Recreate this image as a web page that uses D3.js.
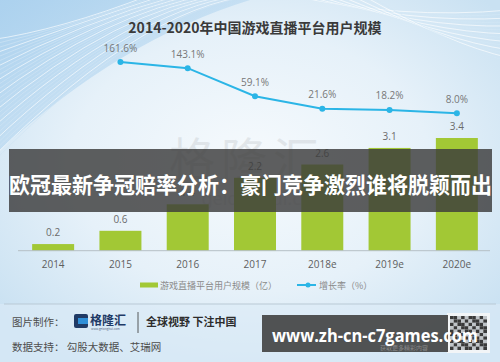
<!DOCTYPE html>
<html>
<head>
<meta charset="utf-8">
<script src="https://cdn.jsdelivr.net/npm/d3@7"></script>
<style>
  body { margin: 0; padding: 0; background: #fff; }
  svg { display: block; }
</style>
</head>
<body>
<div id="chart"></div>
<script>
// data
const years = ["2014", "2015", "2016", "2017", "2018e", "2019e", "2020e"];
const users = [0.2, 0.6, 1.4, 2.2, 2.6, 3.1, 3.4];           // 亿
const rateYears = ["2015", "2016", "2017", "2018e", "2019e", "2020e"];
const rates = [161.6, 143.1, 59.1, 21.6, 18.2, 8.0];          // %

const width = 500, height = 362;
const cjk = "'Noto Sans CJK SC', 'Noto Sans', sans-serif";

const svg = d3.select("#chart").append("svg")
    .attr("width", width)
    .attr("height", height);

const defs = svg.append("defs");

// background gradient
const bg = defs.append("radialGradient")
    .attr("id", "bg")
    .attr("cx", "50%").attr("cy", "45%").attr("r", "65%");
bg.append("stop").attr("offset", "0%").attr("stop-color", "#f6fafd");
bg.append("stop").attr("offset", "55%").attr("stop-color", "#e6f1f9");
bg.append("stop").attr("offset", "100%").attr("stop-color", "#c9e1f2");

const wash = defs.append("linearGradient")
    .attr("id", "wash")
    .attr("x1", "0%").attr("y1", "0%").attr("x2", "100%").attr("y2", "100%");
wash.append("stop").attr("offset", "0%").attr("stop-color", "#a9d0ee").attr("stop-opacity", 0.9);
wash.append("stop").attr("offset", "100%").attr("stop-color", "#a9d0ee").attr("stop-opacity", 0);

svg.append("rect")
    .attr("width", width).attr("height", height)
    .attr("fill", "url(#bg)");

// blue wash top-left
svg.append("path")
    .attr("d", "M0,0 L250,0 Q120,40 0,150 Z")
    .attr("fill", "url(#wash)");

// decorative sweeping lines
const deco = svg.append("g").attr("fill", "none");
d3.range(26).forEach(function(i) {
  deco.append("path")
    .attr("d", "M" + (-10) + "," + (40 + i * 5) + " Q" + (60 + i * 4) + "," + (30 - i * 1.5) + " " + (150 + i * 5) + ",-5")
    .attr("stroke", i % 3 === 0 ? "#ffffff" : "#cfe4f4")
    .attr("stroke-width", 0.8)
    .attr("opacity", 0.8);
});
d3.range(14).forEach(function(i) {
  deco.append("path")
    .attr("d", "M" + (290 + i * 6) + ",-5 Q" + (400 + i * 4) + "," + (20 + i * 2) + " 510," + (10 + i * 4))
    .attr("stroke", i % 2 === 0 ? "#ffffff" : "#d3e7f5")
    .attr("stroke-width", 0.8)
    .attr("opacity", 0.8);
});

// title
svg.append("text")
    .attr("x", 255).attr("y", 33)
    .attr("text-anchor", "middle")
    .style("font-family", cjk)
    .style("font-weight", "bold")
    .style("font-size", "14px")
    .attr("fill", "#3a3a3a")
    .text("2014-2020年中国游戏直播平台用户规模");

// watermark
svg.append("text")
    .attr("x", 247).attr("y", 176)
    .attr("text-anchor", "middle")
    .style("font-family", cjk)
    .style("font-size", "46px")
    .attr("fill", "#000").attr("opacity", 0.07)
    .attr("letter-spacing", "6px")
    .text("格隆汇");
svg.append("text")
    .attr("x", 265).attr("y", 205)
    .attr("text-anchor", "middle")
    .style("font-family", "'Noto Sans', sans-serif")
    .style("font-size", "18px")
    .attr("fill", "#000").attr("opacity", 0.06)
    .text("gelonghui.com");

// scales
const x = d3.scaleBand()
    .domain(years)
    .range([19.5, 490.5])
    .paddingInner(0.376)
    .paddingOuter(0.188);

const yBar = d3.scaleLinear().domain([0, 3.4]).range([250.7, 138]);
const yLine = d3.scaleLinear().domain([0, 161.6]).range([116, 62]);

// bars
svg.selectAll(".bar")
  .data(users)
  .enter().append("rect")
    .attr("class", "bar")
    .attr("x", function(d, i) { return x(years[i]); })
    .attr("y", function(d) { return yBar(d); })
    .attr("width", x.bandwidth())
    .attr("height", function(d) { return yBar(0) - yBar(d); })
    .attr("fill", "#a2c835");

svg.selectAll(".barLabel")
  .data(users)
  .enter().append("text")
    .attr("class", "barLabel")
    .attr("x", function(d, i) { return x(years[i]) + x.bandwidth() / 2; })
    .attr("y", function(d) { return yBar(d) - 8; })
    .attr("text-anchor", "middle")
    .style("font-family", "'Open Sans', sans-serif")
    .style("font-size", "10px")
    .attr("fill", "#6b6b6b")
    .text(function(d) { return d.toFixed(1); });

// x axis
const xAxis = svg.append("g")
    .attr("transform", "translate(0," + yBar(0) + ")")
    .call(d3.axisBottom(x).tickSize(0).tickPadding(10));
xAxis.select(".domain").attr("stroke", "#b5bfc6").attr("d", "M18,0H490");
xAxis.selectAll("text")
    .style("font-family", "'Open Sans', sans-serif")
    .style("font-size", "10px")
    .attr("fill", "#5e5e5e");

// growth line
const line = d3.line()
    .x(function(d, i) { return x(rateYears[i]) + x.bandwidth() / 2; })
    .y(function(d) { return yLine(d); });

svg.append("path")
    .datum(rates)
    .attr("d", line)
    .attr("fill", "none")
    .attr("stroke", "#2bb5e6")
    .attr("stroke-width", 2);

svg.selectAll(".dot")
  .data(rates)
  .enter().append("circle")
    .attr("class", "dot")
    .attr("cx", function(d, i) { return x(rateYears[i]) + x.bandwidth() / 2; })
    .attr("cy", function(d) { return yLine(d); })
    .attr("r", 3)
    .attr("fill", "#2bb5e6");

svg.selectAll(".rateLabel")
  .data(rates)
  .enter().append("text")
    .attr("class", "rateLabel")
    .attr("x", function(d, i) { return x(rateYears[i]) + x.bandwidth() / 2; })
    .attr("y", function(d) { return yLine(d) - 10.5; })
    .attr("text-anchor", "middle")
    .style("font-family", "'Open Sans', sans-serif")
    .style("font-size", "10px")
    .attr("fill", "#777")
    .text(function(d) { return d.toFixed(1) + "%"; });

// legend
const legend = svg.append("g");
legend.append("rect")
    .attr("x", 140).attr("y", 282.5)
    .attr("width", 18).attr("height", 5)
    .attr("fill", "#a2c835");
legend.append("text")
    .attr("x", 160).attr("y", 288.5)
    .style("font-family", cjk)
    .style("font-size", "9px")
    .attr("fill", "#8a8a8a")
    .text("游戏直播平台用户规模（亿）");
legend.append("line")
    .attr("x1", 297).attr("x2", 316)
    .attr("y1", 285).attr("y2", 285)
    .attr("stroke", "#2bb5e6").attr("stroke-width", 2);
legend.append("circle")
    .attr("cx", 308).attr("cy", 285).attr("r", 2.5)
    .attr("fill", "#2bb5e6");
legend.append("text")
    .attr("x", 319).attr("y", 288.5)
    .style("font-family", cjk)
    .style("font-size", "9px")
    .attr("fill", "#8a8a8a")
    .text("增长率（%）");

// overlay banner
svg.append("rect")
    .attr("x", 9).attr("y", 149)
    .attr("width", 483).attr("height", 63)
    .attr("fill", "#3c3c3c").attr("opacity", 0.82);
svg.append("text")
    .attr("x", 250.5).attr("y", 193)
    .attr("text-anchor", "middle")
    .style("font-family", cjk)
    .style("font-weight", "bold")
    .style("font-size", "22px")
    .attr("textLength", 483)
    .attr("lengthAdjust", "spacingAndGlyphs")
    .attr("fill", "#ffffff")
    .text("欧冠最新争冠赔率分析：豪门竞争激烈谁将脱颖而出");

// footer
svg.append("rect")
    .attr("x", 0).attr("y", 304)
    .attr("width", width).attr("height", height - 304)
    .attr("fill", "#dcebf6").attr("opacity", 0.6);
svg.append("line")
    .attr("x1", 4).attr("x2", 496)
    .attr("y1", 304).attr("y2", 304)
    .attr("stroke", "#b9c9d5").attr("stroke-width", 1);

const foot = svg.append("g")
    .style("font-family", cjk);
foot.append("text")
    .attr("x", 12).attr("y", 325.5)
    .style("font-size", "10.5px")
    .attr("fill", "#4d4d4d")
    .text("图片制作：");
foot.append("text")
    .attr("x", 12).attr("y", 350.5)
    .style("font-size", "10.5px")
    .attr("fill", "#4d4d4d")
    .text("数据支持： 勾股大数据、艾瑞网");

// logo
foot.append("rect")
    .attr("x", 74).attr("y", 314)
    .attr("width", 14).attr("height", 14)
    .attr("rx", 2)
    .attr("fill", "#1f3a66");
foot.append("rect")
    .attr("x", 78).attr("y", 318)
    .attr("width", 10).attr("height", 6)
    .attr("fill", "#2f8fd8");
foot.append("text")
    .attr("x", 90).attr("y", 325)
    .style("font-size", "12px")
    .style("font-weight", "bold")
    .attr("fill", "#1f3a66")
    .text("格隆汇");
foot.append("text")
    .attr("x", 91).attr("y", 330)
    .style("font-size", "3px")
    .attr("fill", "#5a6b85")
    .text("www.gelonghui.com");
foot.append("line")
    .attr("x1", 138).attr("x2", 138)
    .attr("y1", 312).attr("y2", 333)
    .attr("stroke", "#333").attr("stroke-width", 0.8);
foot.append("text")
    .attr("x", 146).attr("y", 326)
    .style("font-size", "11px")
    .style("font-weight", "bold")
    .attr("fill", "#2d2d2d")
    .text("全球视野 下注中国");

// qr code block
const qr = svg.append("g");
qr.append("rect")
    .attr("x", 447).attr("y", 313)
    .attr("width", 43).attr("height", 40)
    .attr("fill", "#f2f5f7");
const qrCells = d3.range(0, 10 * 10);
qr.selectAll(".qr")
  .data(qrCells)
  .enter().append("rect")
    .attr("x", function(d) { return 450 + (d % 10) * 3.7; })
    .attr("y", function(d) { return 316 + Math.floor(d / 10) * 3.4; })
    .attr("width", 3.7).attr("height", 3.4)
    .attr("fill", function(d) { return ((d * 7 + Math.floor(d / 10) * 3) % 5 < 3) ? "#3a3a3a" : "#bfc4c8"; });

// url banner
svg.append("rect")
    .attr("x", 262).attr("y", 315)
    .attr("width", 186).attr("height", 37)
    .attr("fill", "#3c3c3c").attr("opacity", 0.88);
svg.append("text")
    .attr("x", 380).attr("y", 350)
    .style("font-family", cjk)
    .style("font-size", "6px")
    .attr("fill", "#888")
    .text("获取更多精彩内容");
svg.append("text")
    .attr("x", 272).attr("y", 342)
    .style("font-family", "'Open Sans', sans-serif")
    .style("font-weight", "bold")
    .style("font-size", "17px")
    .attr("textLength", 206)
    .attr("lengthAdjust", "spacingAndGlyphs")
    .attr("fill", "#ffffff")
    .text("www.zh-cn-c7games.com");
</script>
</body>
</html>
